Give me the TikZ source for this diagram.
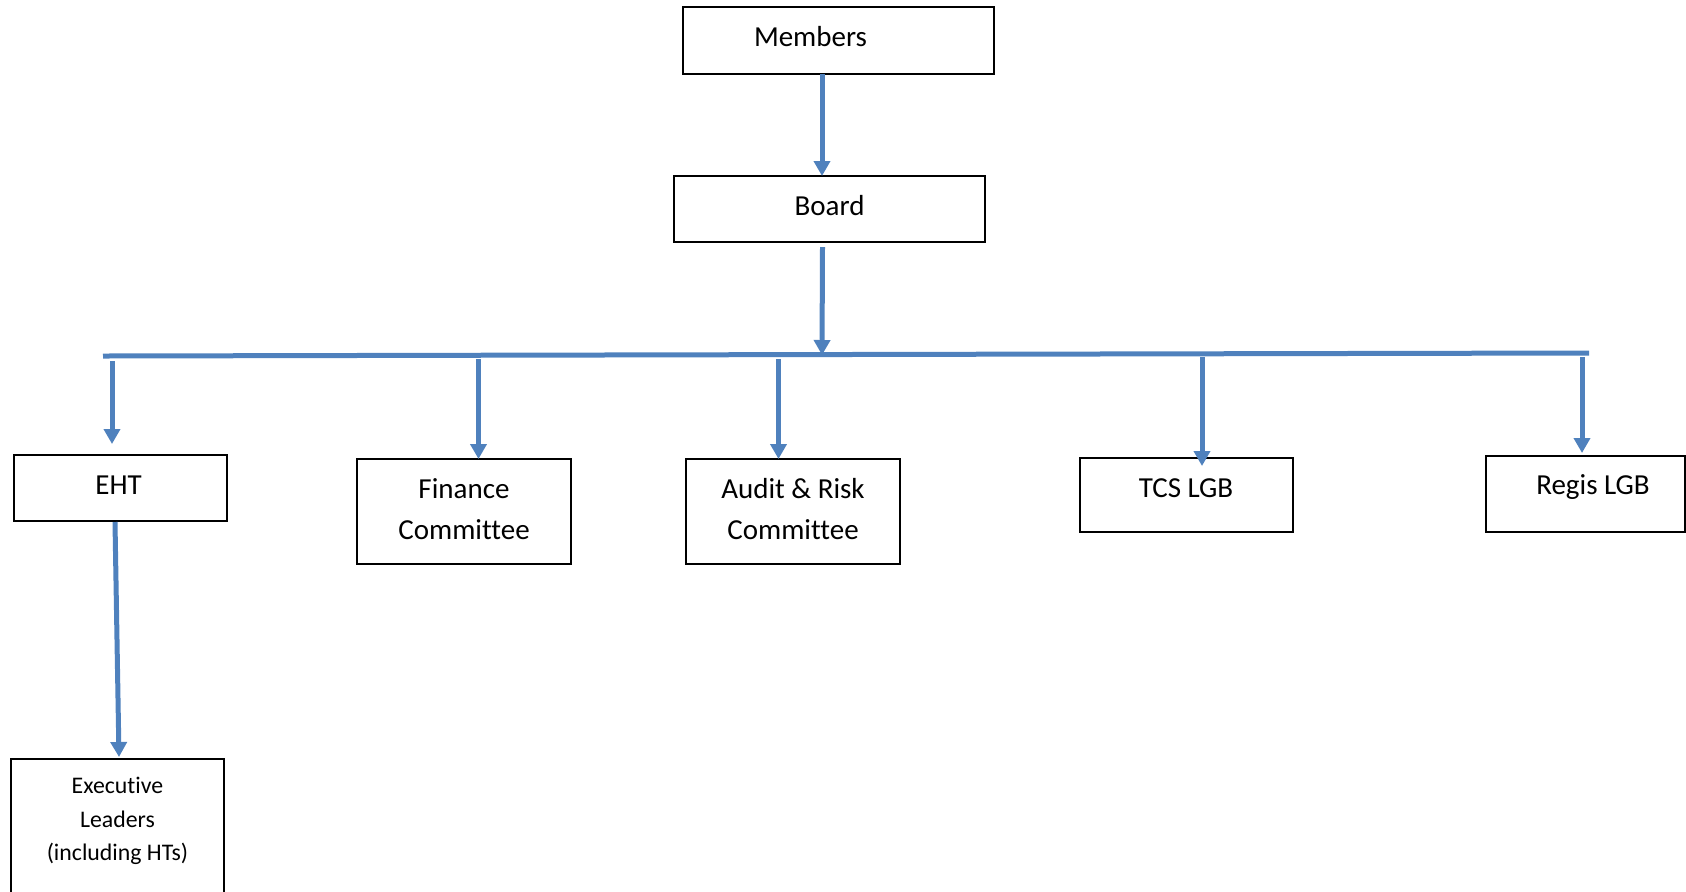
\documentclass[tikz,border=0pt]{standalone}
\usepackage{fontspec}
\setmainfont{Carlito}[Ligatures=NoCommon]
\usetikzlibrary{arrows.meta}
\definecolor{arrowblue}{HTML}{4F81BD}
\begin{document}
\begin{tikzpicture}[x=0.5pt,y=-0.5pt,
  box/.style={draw=black, line width=1pt, rectangle, inner sep=0pt, outer sep=0pt},
  lbl/.style={font=\fontsize{14.5}{20.3}\selectfont, anchor=base, align=center, inner sep=0pt},
  small/.style={font=\fontsize{11.9}{16.7}\selectfont, anchor=base, align=center, inner sep=0pt},
  arr/.style={draw=arrowblue, line width=2.5pt, -{Triangle[width=8pt,length=7.5pt]}},
  bar/.style={draw=arrowblue, line width=2.5pt}]
\useasboundingbox (0,0) rectangle (1686,891);
\clip (0,0) rectangle (1686,891);

% boxes
\node[box, minimum width=155.5pt, minimum height=33.5pt] (members) at (838.5,40.5) {};
\node[lbl] (tmembers) at (810.5,46) {Members};
\node[box, minimum width=155.5pt, minimum height=33pt] (board) at (829.5,209) {};
\node[lbl] (tboard) at (829.5,215) {Board};
\node[box, minimum width=106.5pt, minimum height=33pt] (eht) at (120,488) {};
\node[lbl] (teht) at (118.6,494) {EHT};
\node[box, minimum width=107pt, minimum height=52.5pt] (fin) at (464,511.5) {};
\node[lbl] (tfin) at (464,539) {Finance\\Committee};
\node[box, minimum width=107pt, minimum height=52.5pt] (audit) at (793,511.5) {};
\node[lbl] (taudit) at (793,539) {Audit \& Risk\\Committee};
\node[box, minimum width=106.5pt, minimum height=37pt] (tcs) at (1186.5,495) {};
\node[lbl] (ttcs) at (1186,497) {TCS LGB};
\node[box, minimum width=99.5pt, minimum height=38pt] (regis) at (1585.5,494) {};
\node[lbl] (tregis) at (1593,494) {Regis LGB};
\node[box, minimum width=106.5pt, minimum height=100.5pt] (exec) at (117.5,859.5) {};
\node[small] (texec) at (117.5,860.5) {Executive\\Leaders\\(including HTs)};

% connectors
\coordinate (mbx) at (822,0);
\draw[arr] (members.south -| mbx) -- (board.north -| mbx);
\coordinate (bs) at (822.5,247);
\coordinate (bartop) at (822,355);
\draw[arr] (bs) -- (bartop);
\coordinate (barL) at (103,356);
\coordinate (barR) at (1589,353);
\draw[bar] (barL) -- (barR);
\coordinate (e1) at (112,361);
\coordinate (e2) at (112,444);
\draw[arr] (e1) -- (e2);
\coordinate (f1) at (478.5,359);
\draw[arr] (f1) -- (fin.north -| f1);
\coordinate (a1) at (778.5,359);
\draw[arr] (a1) -- (audit.north -| a1);
\coordinate (t1) at (1202,357);
\coordinate (t2) at (1202,466);
\draw[arr] (t1) -- (t2);
\coordinate (r1) at (1582,357);
\coordinate (r2) at (1582,453);
\draw[arr] (r1) -- (r2);
\coordinate (x1) at (115,522);
\coordinate (x2) at (119,757);
\draw[arr] (x1) -- (x2);
\end{tikzpicture}
\end{document}
